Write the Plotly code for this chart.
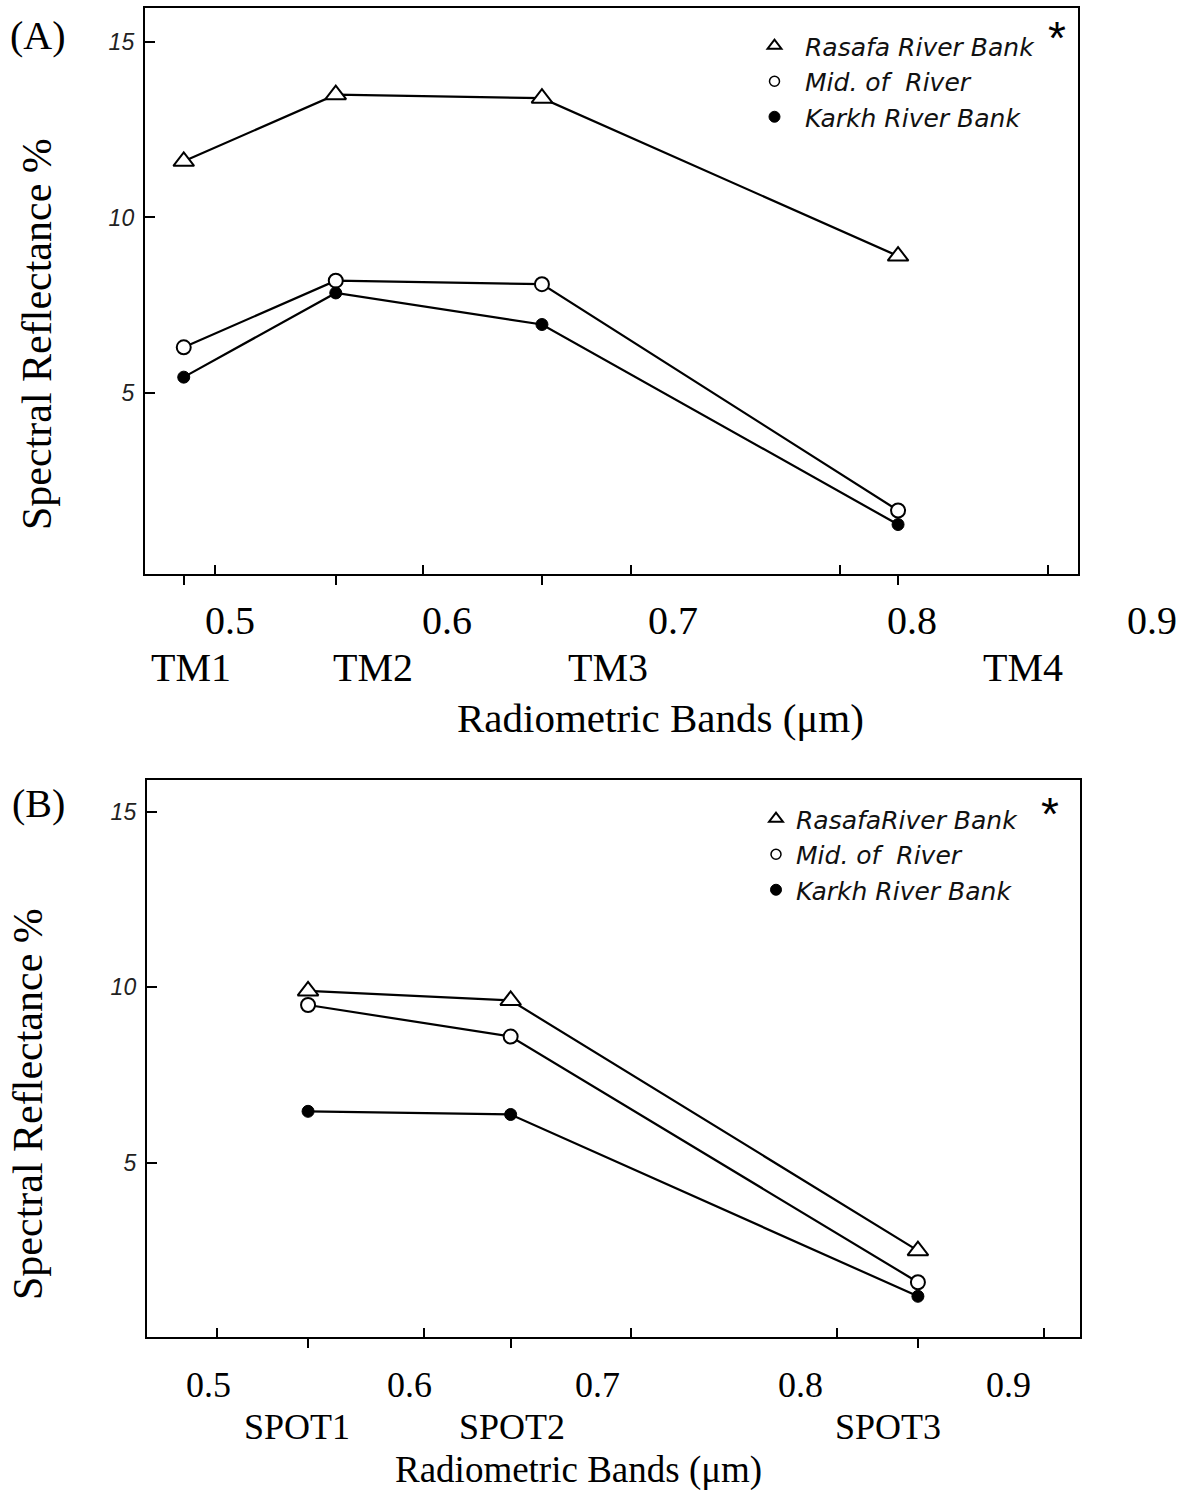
import plotly.graph_objects as go

# ---------------- data ----------------
tm_bands = ["TM1", "TM2", "TM3", "TM4"]
tm_wavelength = [0.485, 0.558, 0.657, 0.828]
tm_rasafa = [11.6, 13.5, 13.4, 8.9]
tm_mid = [6.3, 8.2, 8.1, 1.65]
tm_karkh = [5.45, 7.85, 6.95, 1.25]

spot_bands = ["SPOT1", "SPOT2", "SPOT3"]
spot_wavelength = [0.544, 0.642, 0.839]
spot_rasafa = [9.9, 9.63, 2.5]
spot_mid = [9.5, 8.6, 1.6]
spot_karkh = [6.47, 6.38, 1.2]

wavelength_ticks = [0.5, 0.6, 0.7, 0.8, 0.9]
wavelength_ticktext = ["0.5", "0.6", "0.7", "0.8", "0.9"]
reflectance_ticks = [5, 10, 15]
reflectance_ticktext = ["5", "10", "15"]

names_a = ["Rasafa River Bank", "Mid. of  River", "Karkh River Bank"]
names_b = ["RasafaRiver Bank", "Mid. of  River", "Karkh River Bank"]

# ---------------- layout helpers ----------------
W, H = 1189, 1490


def px(x):
    return x / W


def py(y):
    return 1 - y / H


SERIF = "Liberation Serif"
SANS = "Liberation Sans"
LEGEND_FONT = "DejaVu Sans"

styles = [
    dict(symbol="triangle-up", size=18, color="white", line=dict(color="black", width=2)),
    dict(symbol="circle", size=14, color="white", line=dict(color="black", width=2)),
    dict(symbol="circle", size=12, color="black", line=dict(color="black", width=1)),
]
legend_styles = [
    dict(symbol="triangle-up", size=12, color="white", line=dict(color="black", width=2)),
    dict(symbol="circle", size=10, color="white", line=dict(color="black", width=1.5)),
    dict(symbol="circle", size=11, color="black", line=dict(color="black", width=1)),
]

fig = go.Figure()

for i, (vals, nm) in enumerate(zip([tm_rasafa, tm_mid, tm_karkh], names_a)):
    fig.add_trace(go.Scatter(
        x=tm_wavelength, y=vals, mode="lines+markers", name=nm,
        line=dict(color="black", width=2.2), marker=styles[i],
        xaxis="x", yaxis="y", showlegend=False,
    ))
    fig.add_trace(go.Scatter(
        x=[None], y=[None], mode="markers", name=nm, marker=legend_styles[i],
        xaxis="x", yaxis="y", legend="legend", showlegend=True,
    ))

for i, (vals, nm) in enumerate(zip([spot_rasafa, spot_mid, spot_karkh], names_b)):
    fig.add_trace(go.Scatter(
        x=spot_wavelength, y=vals, mode="lines+markers", name=nm,
        line=dict(color="black", width=2.2), marker=styles[i],
        xaxis="x2", yaxis="y2", showlegend=False,
    ))
    fig.add_trace(go.Scatter(
        x=[None], y=[None], mode="markers", name=nm, marker=legend_styles[i],
        xaxis="x2", yaxis="y2", legend="legend2", showlegend=True,
    ))

axis_common = dict(
    showline=True, linecolor="black", linewidth=2.4, mirror=True,
    showgrid=False, zeroline=False, fixedrange=True,
)

xa = dict(axis_common, tickvals=wavelength_ticks, ticks="inside", ticklen=9,
          tickwidth=2, tickcolor="black", showticklabels=False)

fig.update_layout(
    width=W, height=H, autosize=False,
    margin=dict(l=0, r=0, t=0, b=0),
    paper_bgcolor="white", plot_bgcolor="white",
    xaxis=dict(xa, domain=[px(145), px(1078)], range=[0.4664, 0.9144], anchor="y",
               minor=dict(tickvals=tm_wavelength, ticks="outside", ticklen=9,
                          tickwidth=2, tickcolor="black")),
    yaxis=dict(axis_common, domain=[py(574), py(8)], range=[-0.16, 15.97], anchor="x",
               tickvals=reflectance_ticks, ticktext=reflectance_ticktext,
               ticks="inside", ticklen=10, tickwidth=2, tickcolor="black",
               ticklabelstandoff=4,
               tickfont=dict(family=SANS, size=23, color="#222", style="italic")),
    xaxis2=dict(xa, domain=[px(147), px(1080)], range=[0.4661, 0.9174], anchor="y2",
                minor=dict(tickvals=spot_wavelength, ticks="outside", ticklen=9,
                           tickwidth=2, tickcolor="black")),
    yaxis2=dict(axis_common, domain=[py(1337), py(780)], range=[0.04, 15.91], anchor="x2",
                tickvals=reflectance_ticks, ticktext=reflectance_ticktext,
                ticks="inside", ticklen=10, tickwidth=2, tickcolor="black",
                ticklabelstandoff=4,
                tickfont=dict(family=SANS, size=23, color="#222", style="italic")),
    legend=dict(x=px(744), y=py(23), xanchor="left", yanchor="top",
                bgcolor="rgba(0,0,0,0)", borderwidth=0, itemwidth=51,
                font=dict(family=LEGEND_FONT, size=25, color="#111", style="italic")),
    legend2=dict(x=px(756), y=py(796), xanchor="left", yanchor="top",
                 bgcolor="rgba(0,0,0,0)", borderwidth=0, itemwidth=30,
                 font=dict(family=LEGEND_FONT, size=25, color="#111", style="italic")),
    showlegend=True,
)

ann = []


def label(text, x, y, size, family=SERIF, angle=0):
    return dict(text=text, x=px(x), y=py(y), xref="paper", yref="paper",
                xanchor="center", yanchor="middle", textangle=angle,
                showarrow=False, font=dict(family=family, size=size, color="black"))


# panel labels
ann.append(label("(A)", 38, 35, 40))
ann.append(label("(B)", 38, 803, 40))

# y titles
ann.append(label("Spectral Reflectance %", 37, 334, 42, angle=-90))
ann.append(label("Spectral Reflectance %", 28, 1104, 42, angle=-90))

# wavelength labels under panel A and B (typed labels in the original)
num_x_a = [230, 447, 673, 912, 1152]
num_x_b = [208, 409, 598, 800, 1008]
for t, xx in zip(wavelength_ticktext, num_x_a):
    ann.append(label(t, xx, 620, 40))
for t, xx in zip(wavelength_ticktext, num_x_b):
    ann.append(label(t, xx, 1385, 36))

band_x_a = [191, 373, 608, 1023]
band_x_b = [297, 512, 888]
for t, xx in zip(tm_bands, band_x_a):
    ann.append(label(t, xx, 667, 40))
for t, xx in zip(spot_bands, band_x_b):
    ann.append(label(t, xx, 1427, 36))

ann.append(label("Radiometric Bands (\u03bcm)", 660, 718, 41))
ann.append(label("Radiometric Bands (\u03bcm)", 578, 1470, 37))

# asterisks next to the legends
ann.append(label("*", 1057, 38, 46, family=SANS))
ann.append(label("*", 1050, 814, 46, family=SANS))

fig.update_layout(annotations=ann)

fig.write_html("out.html")
